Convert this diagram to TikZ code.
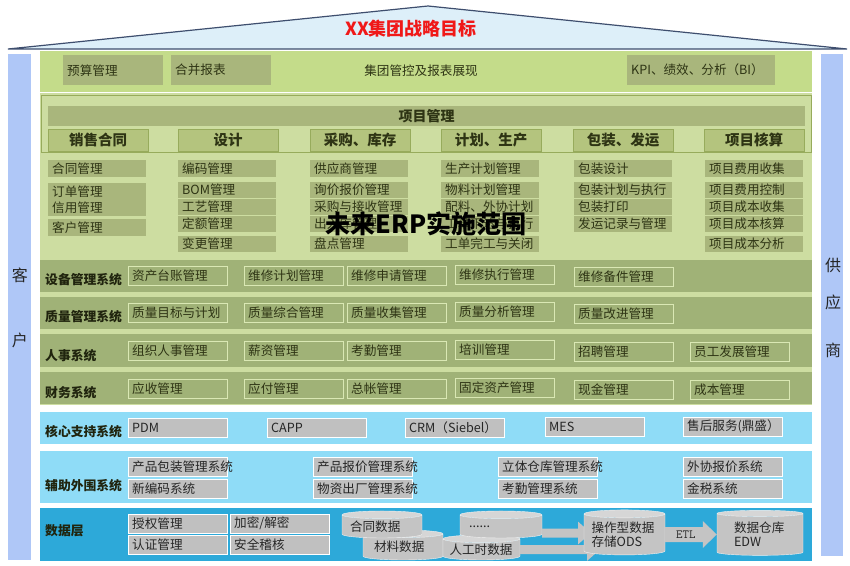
\documentclass[tikz,border=0pt]{standalone}
\usepackage{fontspec}
\setmainfont{Noto Sans CJK SC}
\usepackage{xcolor}
\usepackage{tikz}
\usetikzlibrary{shapes.geometric, arrows.meta}
\definecolor{roofbg}{HTML}{DDEFF9}
\definecolor{roofline}{HTML}{3E4E6E}
\definecolor{pillar}{HTML}{AFC7F7}
\definecolor{topgreen}{HTML}{C4DC8A}
\definecolor{pmgreen}{HTML}{CDDDA1}
\definecolor{pmbox}{HTML}{A9B67C}
\definecolor{hdrfill}{HTML}{B4C47E}
\definecolor{hdrline}{HTML}{97AB5C}
\definecolor{band}{HTML}{A0B277}
\definecolor{sysline}{HTML}{DAE8B4}
\definecolor{itemtxt}{HTML}{2E3414}
\definecolor{corebg}{HTML}{8FDCF7}
\definecolor{databg}{HTML}{2DA9D9}
\definecolor{boxgray}{HTML}{C0C0C0}
\definecolor{cylbody}{HTML}{C4C4C4}
\definecolor{cyltop}{HTML}{D6D6D6}
\definecolor{titlered}{HTML}{F01818}

\begin{document}
\begin{tikzpicture}[
  x=1pt, y=-1pt,
  txt/.style={font=\fontsize{12.6}{14}\selectfont, text=itemtxt},
  tbox/.style={txt, fill=pmbox, anchor=north west, inner xsep=4pt, inner ysep=0pt,
               text width=92pt, minimum height=30pt, align=left},
  pmitem/.style={txt, fill=pmbox, anchor=north west, inner xsep=4pt, inner ysep=0pt,
                 text width=90pt, minimum height=16.5pt, align=left},
  hdr/.style={fill=hdrfill, draw=hdrline, anchor=north west, minimum width=100pt,
              minimum height=22pt, inner sep=0pt, font=\fontsize{14.5}{16}\selectfont\bfseries,
              text=itemtxt},
  sysitem/.style={txt, fill=band, draw=sysline, anchor=north west, inner xsep=4pt,
                  inner ysep=0pt, text width=91pt, minimum height=19pt, align=left},
  gbox/.style={txt, text=black!85, fill=boxgray, draw=white, anchor=north west,
               inner xsep=4pt, inner ysep=0pt, text width=91pt, minimum height=18.5pt, align=left},
  syslabel/.style={anchor=west, inner sep=0pt, text=itemtxt!70!black,
                   font=\fontsize{12.8}{14}\selectfont\bfseries},
  pilltxt/.style={inner sep=0pt, font=\fontsize{16}{18}\selectfont, text=black!85},
  dbcyl/.style={cylinder, shape border rotate=90, aspect=0.12, draw=white!90!gray,
                cylinder uses custom fill, cylinder body fill=cylbody, cylinder end fill=cyltop,
                inner sep=0pt, text width=64pt, align=left, txt, text=black!85},
  fat/.style={line width=9pt, draw=cylbody, -{Triangle[length=13pt, width=22pt]}}
]
  \fill[white] (0,0) rectangle (850,565);
  \useasboundingbox (0,0) rectangle (850,565);

  \filldraw[fill=roofbg, draw=roofline, line width=1.2pt] (8,49) -- (428,6) -- (847,49) -- cycle;
  \node[font=\fontsize{18}{20}\selectfont\bfseries, text=titlered] (goal) at (411,29) {XX集团战略目标};

  \fill[pillar] (8,54) rectangle (31,560);
  \fill[pillar] (821,54) rectangle (843,556);
  \node[pilltxt] (ke) at (20,275) {客};
  \node[pilltxt] (hu) at (20,340) {户};
  \node[pilltxt] (gong) at (833,265) {供};
  \node[pilltxt] (ying) at (833,302) {应};
  \node[pilltxt] (shang) at (833,350) {商};

  \fill[topgreen] (40,51) rectangle (812,92);
  \node[tbox] (ysgl) at (63,55) {预算管理};
  \node[tbox] (hbbb) at (171,55) {合并报表};
  \node[txt] (jtgk) at (421,71) {集团管控及报表展现};
  \node[tbox, text width=140pt] (kpi) at (627,55) {KPI、绩效、分析（BI）};

  \fill[pmgreen] (40,93) rectangle (812,405);
  \draw[hdrline] (41,95) rectangle (811,152);
  \node[fill=pmbox, anchor=north west, minimum width=757pt, minimum height=18pt,
        font=\fontsize{14}{16}\selectfont\bfseries, text=itemtxt] (xmgl) at (48,106) {项目管理};

  \node[hdr] (hxs) at (48,129) {销售合同};
  \node[hdr] (hsj) at (178,129) {设计};
  \node[hdr] (hcg) at (310,129) {采购、库存};
  \node[hdr] (hjh) at (441,129) {计划、生产};
  \node[hdr] (hbz) at (573,129) {包装、发运};
  \node[hdr] (hhs) at (704,129) {项目核算};

  \node[pmitem] (xs1) at (48,160) {合同管理};
  \node[pmitem] (xs2) at (48,183) {订单管理};
  \node[pmitem] (xs3) at (48,199.5) {信用管理};
  \node[pmitem] (xs4) at (48,219) {客户管理};

  \node[pmitem] (sj1) at (178,160) {编码管理};
  \node[pmitem] (sj2) at (178,181.5) {BOM管理};
  \node[pmitem] (sj3) at (178,198.5) {工艺管理};
  \node[pmitem] (sj4) at (178,215.5) {定额管理};
  \node[pmitem] (sj5) at (178,235.5) {变更管理};

  \node[pmitem] (cg1) at (310,160) {供应商管理};
  \node[pmitem] (cg2) at (310,181.5) {询价报价管理};
  \node[pmitem] (cg3) at (310,198.5) {采购与接收管理};
  \node[pmitem] (cg4) at (310,215.5) {出入库管理};
  \node[pmitem] (cg5) at (310,235.5) {盘点管理};

  \node[pmitem] (jh1) at (441,160) {生产计划管理};
  \node[pmitem] (jh2) at (441,181.5) {物料计划管理};
  \node[pmitem] (jh3) at (441,198.5) {配料、外协计划};
  \node[pmitem] (jh4) at (441,215.5) {工单下达与执行};
  \node[pmitem] (jh5) at (441,235.5) {工单完工与关闭};

  \node[pmitem] (bz1) at (574,160) {包装设计};
  \node[pmitem] (bz2) at (574,181.5) {包装计划与执行};
  \node[pmitem] (bz3) at (574,198.5) {包装打印};
  \node[pmitem] (bz4) at (574,215.5) {发运记录与管理};

  \node[pmitem] (hs1) at (705,160) {项目费用收集};
  \node[pmitem] (hs2) at (705,181.5) {项目费用控制};
  \node[pmitem] (hs3) at (705,198.5) {项目成本收集};
  \node[pmitem] (hs4) at (705,215.5) {项目成本核算};
  \node[pmitem] (hs5) at (705,235.5) {项目成本分析};

  \node[font=\fontsize{25}{27}\selectfont\bfseries, text=black] (fw) at (426,224) {未来ERP实施范围};

  \fill[band] (40,260) rectangle (812,292);
  \node[syslabel] (sb) at (45,280) {设备管理系统};
  \node[sysitem] (sb1) at (128,266) {资产台账管理};
  \node[sysitem] (sb2) at (244,266) {维修计划管理};
  \node[sysitem] (sb3) at (347,266) {维修申请管理};
  \node[sysitem] (sb4) at (455,265) {维修执行管理};
  \node[sysitem] (sb5) at (574,267) {维修备件管理};

  \fill[band] (40,297) rectangle (812,329);
  \node[syslabel] (zl) at (45,317) {质量管理系统};
  \node[sysitem] (zl1) at (128,303) {质量目标与计划};
  \node[sysitem] (zl2) at (244,303) {质量综合管理};
  \node[sysitem] (zl3) at (347,303) {质量收集管理};
  \node[sysitem] (zl4) at (455,302) {质量分析管理};
  \node[sysitem] (zl5) at (574,304) {质量改进管理};

  \fill[band] (40,334) rectangle (812,367);
  \node[syslabel] (rs) at (45,356) {人事系统};
  \node[sysitem] (rs1) at (128,341) {组织人事管理};
  \node[sysitem] (rs2) at (244,341) {薪资管理};
  \node[sysitem] (rs3) at (347,341) {考勤管理};
  \node[sysitem] (rs4) at (455,340) {培训管理};
  \node[sysitem] (rs5) at (574,342) {招聘管理};
  \node[sysitem] (rs6) at (690,342) {员工发展管理};

  \fill[band] (40,372) rectangle (812,404);
  \node[syslabel] (cw) at (45,393) {财务系统};
  \node[sysitem] (cw1) at (128,379) {应收管理};
  \node[sysitem] (cw2) at (244,379) {应付管理};
  \node[sysitem] (cw3) at (347,379) {总帐管理};
  \node[sysitem] (cw4) at (455,378) {固定资产管理};
  \node[sysitem] (cw5) at (574,380) {现金管理};
  \node[sysitem] (cw6) at (690,380) {成本管理};

  \fill[corebg] (40,412) rectangle (812,444);
  \node[syslabel] (hx) at (45,432) {核心支持系统};
  \node[gbox] (pdm) at (128,418) {PDM};
  \node[gbox] (capp) at (267,418) {CAPP};
  \node[gbox] (crm) at (405,418) {CRM（Siebel）};
  \node[gbox] (mes) at (545,417) {MES};
  \node[gbox] (shfw) at (683,417) {售后服务(鼎盛）};

  \fill[corebg] (40,451) rectangle (812,503);
  \node[syslabel] (fz) at (45,486) {辅助外围系统};
  \node[gbox] (fz1) at (128,457) {产品包装管理系统};
  \node[gbox] (fz2) at (128,479) {新编码系统};
  \node[gbox] (fz3) at (313,457) {产品报价管理系统};
  \node[gbox] (fz4) at (313,479) {物资出厂管理系统};
  \node[gbox] (fz5) at (498,457) {立体仓库管理系统};
  \node[gbox] (fz6) at (498,479) {考勤管理系统};
  \node[gbox] (fz7) at (683,457) {外协报价系统};
  \node[gbox] (fz8) at (683,479) {金税系统};

  \fill[databg] (40,508) rectangle (812,561);
  \node[syslabel] (sjc) at (45,531) {数据层};
  \node[gbox] (sq) at (128,514) {授权管理};
  \node[gbox] (rz) at (128,535) {认证管理};
  \node[gbox] (jm) at (230,514) {加密/解密};
  \node[gbox] (aq) at (230,535) {安全稽核};

  \node[dbcyl, minimum width=80pt, minimum height=30pt] (clsj) at (403,547) {\hspace*{3pt}材料数据};
  \node[dbcyl, minimum width=80pt, minimum height=27pt] (htsj) at (382,526.5) {合同数据};
  \node[dbcyl, minimum width=77pt, minimum height=25pt] (rgs) at (481.5,549.5) {人工时数据};
  \node[dbcyl, minimum width=82pt, minimum height=27pt] (more) at (501,526.5) {......};

  \coordinate (odsup) at (591,533);
  \coordinate (odslow) at (600,549.5);
  \draw[fat] ([yshift=-6.5pt]more.east) -- (odsup);
  \draw[fat] (rgs.east) -- (odslow);

  \node[dbcyl, minimum width=81pt, minimum height=45pt, text width=66pt] (ods) at (624.5,534.5) {操作型数据\\存储ODS};
  \node[dbcyl, minimum width=86pt, minimum height=45pt, text width=52pt] (edw) at (760,534.5) {数据仓库\\EDW};

  \draw[line width=15pt, draw=cylbody, -{Triangle[length=14pt, width=26pt]}] (ods.east) --
    node[pos=0.4, font=\ttfamily\fontsize{12.5}{13}\selectfont, text=black!85] {ETL} (edw.west);
\end{tikzpicture}
\end{document}
